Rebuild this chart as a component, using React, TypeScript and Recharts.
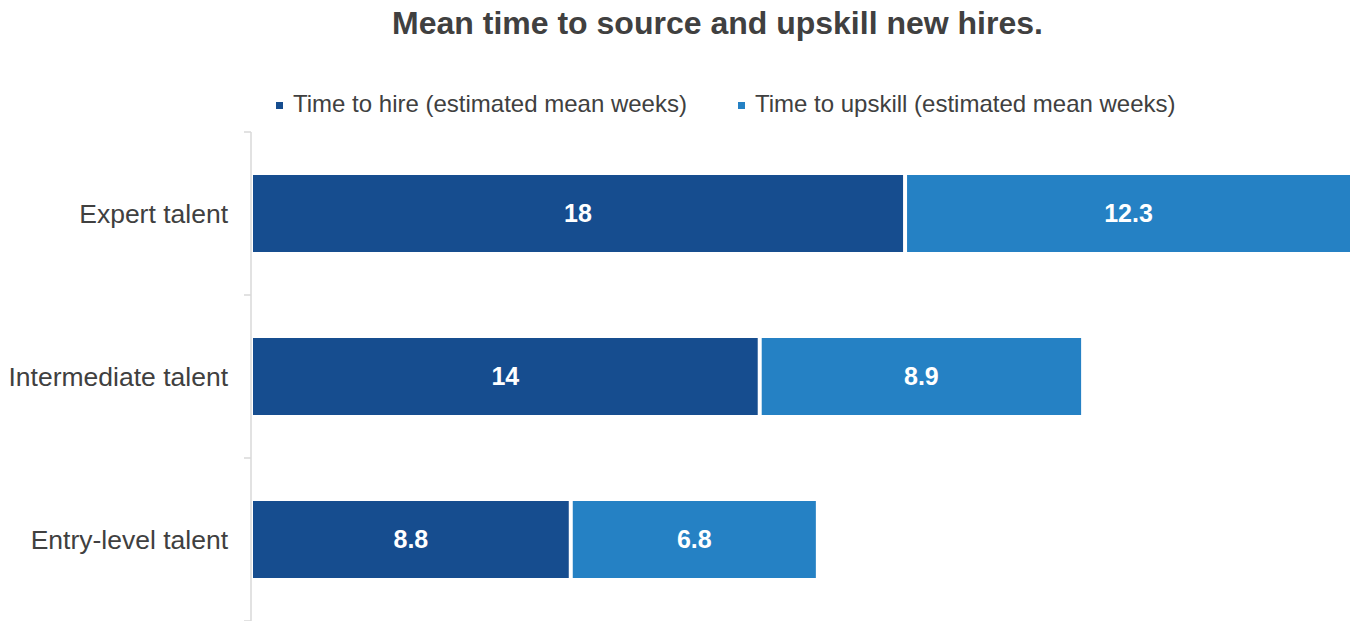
import React from "react";
import { BarChart, Bar, XAxis, YAxis, Legend, LabelList } from "recharts";

const categories = ["Expert talent", "Intermediate talent", "Entry-level talent"];
const hireWeeks = [18, 14, 8.8];
const upskillWeeks = [12.3, 8.9, 6.8];
const seriesNames = ["Time to hire (estimated mean weeks)", "Time to upskill (estimated mean weeks)"];
const seriesColors = ["#164D8F", "#2581C4"];
const title = "Mean time to source and upskill new hires.";

const data = categories.map((c, i) => ({ category: c, hire: hireWeeks[i], upskill: upskillWeeks[i] }));

const FONT = "'Liberation Sans', Arial, sans-serif";
const TEXT = "#404040";
const AXIS = "#D9D9D9";
const TICK_MARGIN = 23;
const EDGE_TICK = 7;

const GapRect = (props: any) => {
  const { x, y, width, height, fill } = props;
  if (!width || width <= 4) return null;
  return <rect x={x + 2} y={y} width={width - 4} height={height} fill={fill} />;
};

const CategoryTick = (props: any) => {
  const { x, y, payload, index, visibleTicksCount } = props;
  const axisX = x + TICK_MARGIN;
  const half = payload && payload.offset ? payload.offset : 0;
  const last = visibleTicksCount ? index === visibleTicksCount - 1 : index === categories.length - 1;
  return (
    <g>
      <line x1={axisX - EDGE_TICK} x2={axisX} y1={y - half} y2={y - half} stroke={AXIS} strokeWidth={1.5} />
      {last && <line x1={axisX - EDGE_TICK} x2={axisX} y1={y + half} y2={y + half} stroke={AXIS} strokeWidth={1.5} />}
      <text x={x} y={y} dy="0.355em" textAnchor="end" fill={TEXT} fontSize={26.5} fontFamily={FONT}>
        {payload.value}
      </text>
    </g>
  );
};

const LegendContent = (props: any) => {
  const payload = props.payload || [];
  return (
    <div style={{ display: "flex", flexDirection: "row", marginLeft: 276, fontFamily: FONT }}>
      {payload.map((p: any, i: number) => (
        <div key={i} style={{ display: "flex", alignItems: "center", marginRight: 51 }}>
          <div style={{ width: 7, height: 7, background: p.color, marginRight: 10, marginTop: 2 }} />
          <span style={{ fontSize: 24, lineHeight: "24px", color: TEXT, whiteSpace: "nowrap" }}>{p.value}</span>
        </div>
      ))}
    </div>
  );
};

export default function App() {
  return (
    <div style={{ position: "absolute", left: 0, top: 0, width: 1352, height: 621, background: "#fff", fontFamily: FONT }}>
      <div
        style={{
          position: "absolute",
          top: 7,
          left: 717.5,
          transform: "translateX(-50%)",
          whiteSpace: "nowrap",
          fontSize: 32,
          lineHeight: "32px",
          fontWeight: 700,
          color: TEXT,
        }}
      >
        {title}
      </div>
      <BarChart
        width={1352}
        height={621}
        data={data}
        layout="vertical"
        margin={{ top: 132, right: 0, bottom: 0, left: 0 }}
        style={{ fontFamily: FONT }}
      >
        <XAxis type="number" domain={[0, 30.3]} hide />
        <YAxis
          type="category"
          dataKey="category"
          width={251}
          axisLine={{ stroke: AXIS, strokeWidth: 1.5 }}
          tickLine={false}
          tickSize={0}
          tickMargin={TICK_MARGIN}
          interval={0}
          tick={CategoryTick}
        />
        <Legend
          verticalAlign="middle"
          layout="horizontal"
          content={<LegendContent />}
          wrapperStyle={{ position: "absolute", top: 92, left: 0, width: 1352, height: 24 }}
        />
        <Bar dataKey="hire" name={seriesNames[0]} stackId="a" fill={seriesColors[0]} barSize={77} shape={<GapRect />} isAnimationActive={false}>
          <LabelList dataKey="hire" position="center" fill="#FFFFFF" fontSize={25} fontWeight={700} fontFamily={FONT} />
        </Bar>
        <Bar dataKey="upskill" name={seriesNames[1]} stackId="a" fill={seriesColors[1]} barSize={77} shape={<GapRect />} isAnimationActive={false}>
          <LabelList dataKey="upskill" position="center" fill="#FFFFFF" fontSize={25} fontWeight={700} fontFamily={FONT} />
        </Bar>
      </BarChart>
    </div>
  );
}
